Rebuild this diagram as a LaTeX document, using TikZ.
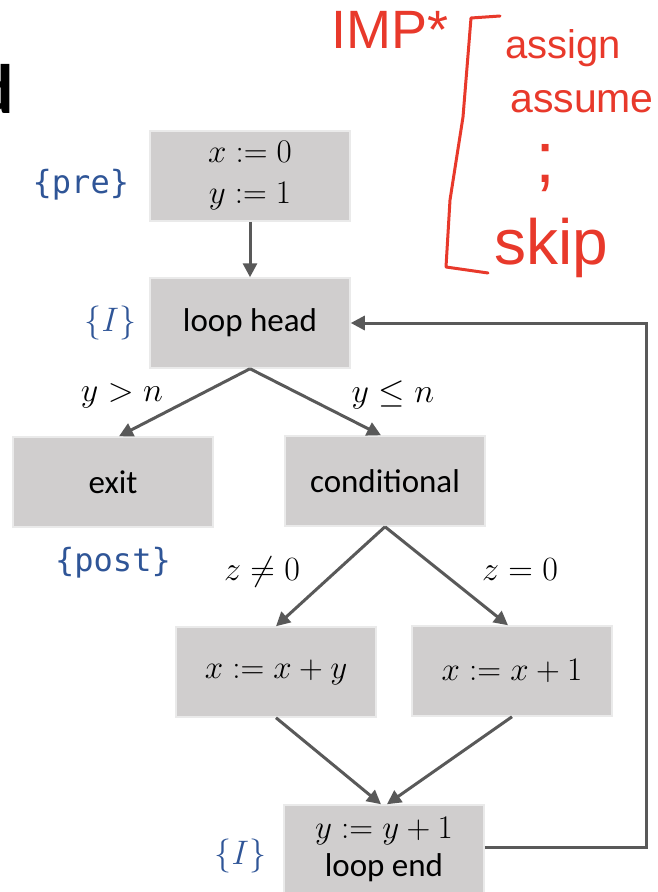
\RequirePackage{fix-cm}
\documentclass[tikz,border=0pt]{standalone}
\usepackage{amsmath, amssymb}
\usepackage[no-math]{fontspec}
\setmainfont{Carlito}
\newfontfamily\monofont{DejaVu Sans Mono}
\newfontfamily\handfont{Liberation Sans}
\usepackage{xcolor}
\usetikzlibrary{positioning, arrows.meta}

\definecolor{boxgray}{HTML}{D0CECE}
\definecolor{boxedge}{HTML}{EAEAEA}
\definecolor{linegray}{HTML}{595959}
\definecolor{annblue}{HTML}{2F5597}
\definecolor{inkred}{HTML}{E8392B}

\begin{document}
\begin{tikzpicture}[
    x=1pt, y=-1pt,
    box/.style={
        draw=boxedge,
        line width=1.5pt,
        fill=boxgray,
        align=center,
        minimum width=200pt,
        minimum height=90pt,
        inner sep=2pt,
        font=\fontsize{33}{41}\selectfont
    },
    note/.style={text=annblue, inner sep=0pt},
    cond/.style={inner sep=0pt, font=\fontsize{34}{40}\selectfont},
    ink/.style={text=inkred, inner sep=0pt, font=\handfont},
    arrow/.style={-{Triangle[length=14pt, width=14pt]}, draw=linegray, line width=3pt}
]
\clip (0,0) rectangle (657,892);

% --- title rest ---
\node[anchor=base east, inner sep=0pt, font=\fontsize{70}{80}\selectfont\bfseries] (title) at (14,113) {d};

% --- blocks ---
\node[box] (pre) at (250,176) {$x := 0$\\ $y := 1$};
\node[box] (head) at (250,323) {loop head};
\node[box] (exit) at (113,482) {exit};
\node[box] (cond) at (385,481) {conditional};
\node[box] (xy) at (276,672) {$x := x + y$};
\node[box] (xone) at (512,671) {$x := x + 1$};
\node[box] (lend) at (384,850) {$y := y + 1$\\[-3pt] loop end};

% --- annotations ---
\node[note, left=20pt of pre, yshift=-9pt, font=\monofont\fontsize{32}{36}\selectfont] (prelab) {\{pre\}};
\node[note, left=13pt of head, font=\fontsize{34}{40}\selectfont] (headinv) {$\{I\}$};
\node[note, below=19pt of exit, font=\monofont\fontsize{32}{36}\selectfont] (postlab) {\{post\}};
\node[note, left=17pt of lend, yshift=-6pt, font=\fontsize{34}{40}\selectfont] (endinv) {$\{I\}$};

% --- guards ---
\node[cond] (gexit) at (122,396) {$y > n$};
\node[cond] (gbody) at (393,395) {$y \leq n$};
\node[cond] (gnz) at (262,572) {$z \neq 0$};
\node[cond] (gz) at (520,570) {$z = 0$};

% --- flow ---
\draw[arrow] (pre) -- (head);
\draw[arrow] (head.south) -- ([xshift=6pt]exit.north);
\draw[arrow] (head.south) -- ([xshift=-4pt]cond.north);
\draw[arrow] (cond.south) -- (xy.north);
\draw[arrow] (cond.south) -- ([xshift=-4pt]xone.north);
\draw[arrow] (xy.south) -- ([xshift=-3pt]lend.north);
\draw[arrow] (xone.south) -- ([xshift=3pt]lend.north);

% --- back edge ---
\draw[arrow] (lend.east) ++(0,-3) -- ++(162,0) |- (head.east);

% --- handwritten note ---
\node[ink, font=\handfont\fontsize{54}{60}\selectfont] (imp) at (390,30) {IMP*};
\draw[inkred, line width=3pt, line cap=round, line join=round]
(500,16) -- (471,18) -- (463,117) -- (450,200) -- (446,267) -- (488,273);
\node[ink, font=\handfont\fontsize{40}{44}\selectfont, anchor=base west] (assign) at (505,58) {assign};
\node[ink, font=\handfont\fontsize{41}{44}\selectfont, anchor=base west] (assume) at (510,112) {assume};
\node[ink, font=\handfont\fontsize{72}{76}\selectfont] (semi) at (545,168) {;};
\node[ink, font=\handfont\fontsize{64}{66}\selectfont, anchor=base west] (skip) at (494,264) {skip};

\end{tikzpicture}
\end{document}
